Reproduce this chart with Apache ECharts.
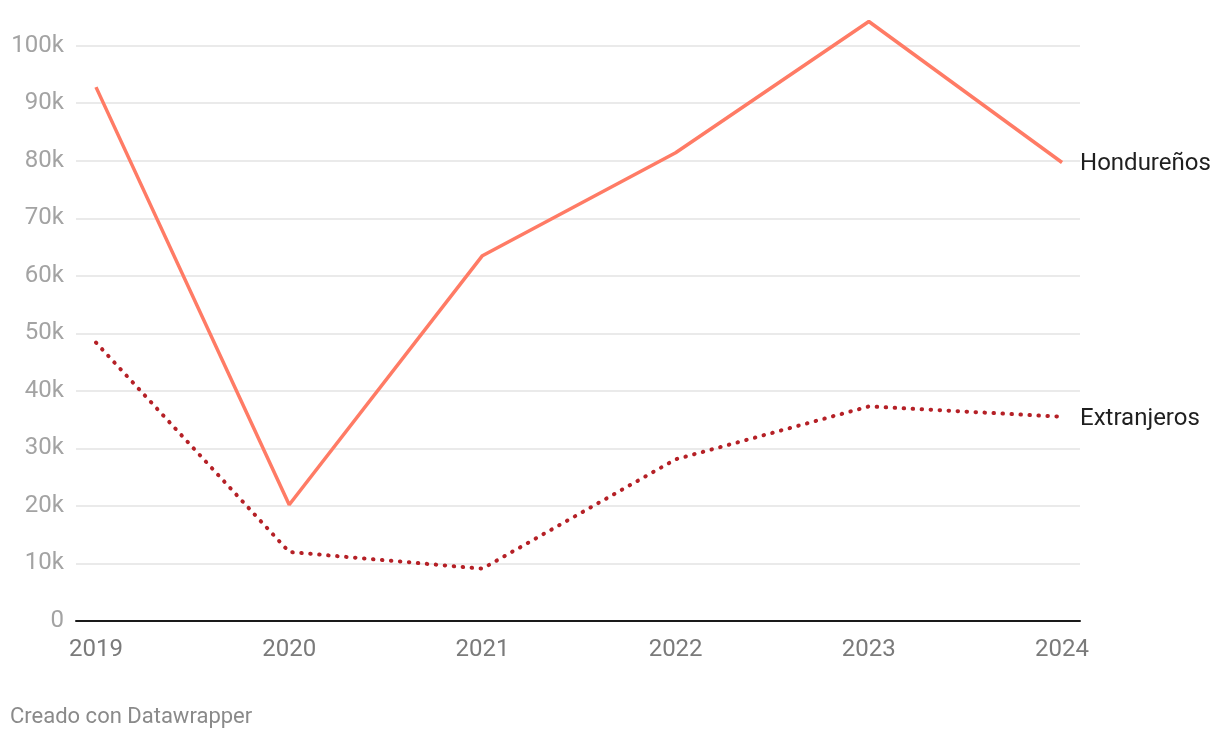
<!DOCTYPE html>
<html>
<head>
<meta charset="utf-8">
<script src="https://cdn.jsdelivr.net/npm/echarts@6/dist/echarts.min.js"></script>
<style>
html,body{margin:0;padding:0;background:#fff;}
#chart{width:1220px;height:738px;}
</style>
</head>
<body>
<div id="chart"></div>
<script>
const years = ['2019', '2020', '2021', '2022', '2023', '2024'];
const hondurenos = [92800, 20200, 63500, 81400, 104200, 79700];
const extranjeros = [48400, 12000, 9100, 28100, 37300, 35500];
const yTicks = [0, 10000, 20000, 30000, 40000, 50000, 60000, 70000, 80000, 90000, 100000];
const seriesNames = ['Hondureños', 'Extranjeros'];
const footerText = 'Creado con Datawrapper';

const yearNums = years.map(Number);
const toPairs = arr => arr.map((v, i) => [yearNums[i], v]);

const chart = echarts.init(document.getElementById('chart'), null, {renderer: 'canvas'});
const font = 'Roboto, "DejaVu Sans", sans-serif';

chart.setOption({
  animation: false,
  backgroundColor: '#ffffff',
  textStyle: {fontFamily: font},
  grid: {left: 76, right: 140, top: 45.7, bottom: 117, containLabel: false},
  xAxis: {
    type: 'value',
    min: 2018.8965,
    max: 2024.093,
    axisLine: {show: true, onZero: false, lineStyle: {color: '#1a1a1a', width: 2}},
    axisTick: {show: false},
    splitLine: {show: false},
    axisLabel: {
      customValues: yearNums,
      color: '#7a7a7a',
      fontSize: 24,
      fontFamily: font,
      margin: 17,
      formatter: v => String(Math.round(v))
    }
  },
  yAxis: {
    type: 'value',
    min: 0,
    max: 100000,
    interval: 10000,
    axisLine: {show: false},
    axisTick: {show: false},
    splitLine: {lineStyle: {color: '#e3e3e3', width: 1.5}},
    axisLabel: {
      color: '#a3a3a3',
      fontSize: 24,
      fontFamily: font,
      margin: 12,
      formatter: v => yTicks.includes(v) ? (v === 0 ? '0' : (v / 1000) + 'k') : ''
    }
  },
  series: [
    {
      name: seriesNames[0],
      type: 'line',
      data: toPairs(hondurenos),
      clip: false,
      symbol: 'none',
      lineStyle: {color: '#ff7b65', width: 3.5},
      endLabel: {show: true, formatter: '{a}', color: '#1f1f1f', fontSize: 24, fontFamily: font, distance: 18, offset: [0, 2]}
    },
    {
      name: seriesNames[1],
      type: 'line',
      data: toPairs(extranjeros),
      clip: false,
      symbol: 'none',
      lineStyle: {color: '#b52026', width: 4, type: [0.5, 8.5], cap: 'round'},
      endLabel: {show: true, formatter: '{a}', color: '#1f1f1f', fontSize: 24, fontFamily: font, distance: 18, offset: [0, 2]}
    }
  ],
  graphic: [{
    type: 'text',
    left: 10,
    top: 706,
    style: {text: footerText, fill: '#8a8a8a', fontSize: 22, fontFamily: font}
  }]
});
</script>
</body>
</html>
